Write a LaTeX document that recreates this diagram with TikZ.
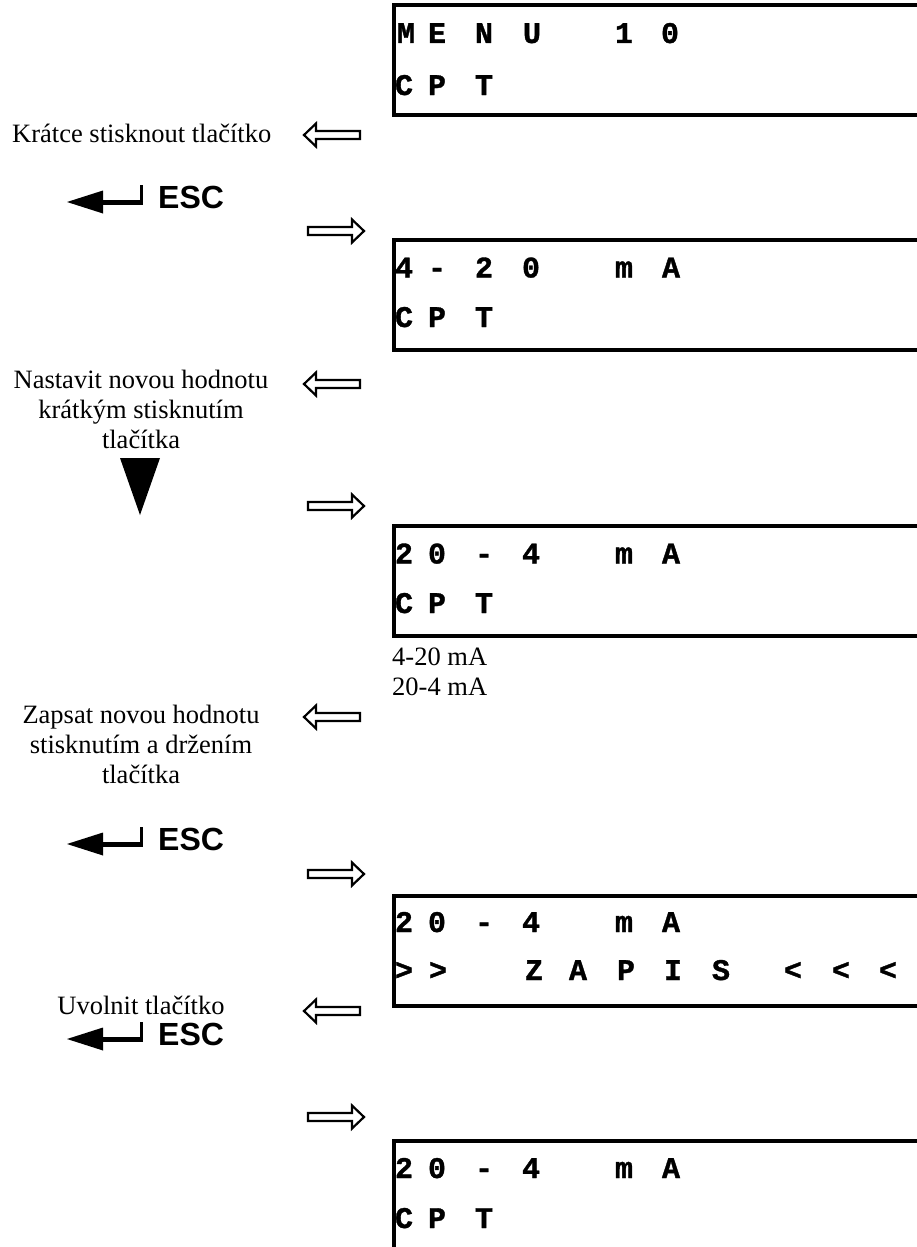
\documentclass[tikz,border=0pt]{standalone}
\usepackage{fontspec}
\setmainfont{Liberation Serif}
\newfontfamily\lcdfont{Liberation Mono}[BoldFeatures={FakeBold=1.2}]
\newfontfamily\keyfont{Liberation Sans}

% one text row of an LCD: name prefix, baseline y, list of x/char
\newcommand\lcdrow[3]{%
  \foreach \cx/\ch [count=\k] in #3 {\node[lcdchar] (#1-\k) at (\cx,#2) {\ch};}%
}
% LCD frame open to the right: top y
\newcommand\lcdframe[1]{%
  \draw[lcdline] (935,#1) -- (393.5,#1) -- (393.5,#1+110) -- (935,#1+110);%
}

\def\rowMenu{406/M,437/E,484/N,532/U,624/1,670/0}
\def\rowCPT{404/C,437/P,484/T}
\def\rowUp{404/4,437/-,484/2,531/0,624/m,671/A}
\def\rowDown{404/2,437/0,484/-,531/4,624/m,671/A}
\def\rowSave{404/>,438/>,534/Z,578/A,626/P,673/I,721/S,793/<,841/<,888/<}

\begin{document}
\begin{tikzpicture}[x=1pt,y=-1pt,
  helptext/.style={font=\fontsize{26.5}{30}\selectfont, inner sep=0pt, anchor=base},
  lcdchar/.style={font=\lcdfont\bfseries\fontsize{30}{30}\selectfont, inner sep=0pt, anchor=base},
  lcdline/.style={line width=4pt},
  hollow/.style={line width=2.2pt, line join=miter},
  keytext/.style={font=\keyfont\bfseries\fontsize{32}{32}\selectfont, inner sep=0pt, anchor=base west},
  backarrow/.pic={\draw[hollow] (0,0) -- (12,-11.5) -- (12,-4) -- (56,-4) -- (56,4) -- (12,4) -- (12,11.5) -- cycle;},
  fwdarrow/.pic={\draw[hollow] (0,0) -- (-12,-11.5) -- (-12,-4) -- (-56,-4) -- (-56,4) -- (-12,4) -- (-12,11.5) -- cycle;},
  escarrow/.pic={\fill (0,0) -- (36,-11.5) -- (36,11.5) -- cycle;
                 \fill (34,-2.5) -- (76,-2.5) -- (76,2.5) -- (34,2.5) -- cycle;
                 \fill (72.5,-17) -- (76,-17) -- (76,2.5) -- (72.5,2.5) -- cycle;}
]
\useasboundingbox (0,0) rectangle (917,1247);
\clip (0,0) rectangle (917,1247);

% ---- display 1: MENU 10
\lcdframe{5}
\lcdrow{d1a}{43}{\rowMenu}
\lcdrow{d1b}{95}{\rowCPT}

\node[helptext, anchor=base west] (t1) at (12,142) {Krátce stisknout tlačítko};
\pic at (304,135) {backarrow};
\pic at (67,202) {escarrow};
\node[keytext] (esc1) at (158,208) {ESC};
\pic at (364,231) {fwdarrow};

% ---- display 2: 4-20 mA
\lcdframe{240}
\lcdrow{d2a}{277.5}{\rowUp}
\lcdrow{d2b}{327}{\rowCPT}

\node[helptext] (t2a) at (141,388) {Nastavit novou hodnotu};
\node[helptext] (t2b) at (141,418) {krátkým stisknutím};
\node[helptext] (t2c) at (141,448) {tlačítka};
\pic at (304,384) {backarrow};
\fill (120,458) -- (160,458) -- (140,515) -- cycle;
\pic at (364,506) {fwdarrow};

% ---- display 3: 20-4 mA
\lcdframe{526}
\lcdrow{d3a}{563.5}{\rowDown}
\lcdrow{d3b}{613}{\rowCPT}

\node[helptext, anchor=base west] (o1) at (392,665) {4-20 mA};
\node[helptext, anchor=base west] (o2) at (392,695) {20-4 mA};

\node[helptext] (t3a) at (141,723) {Zapsat novou hodnotu};
\node[helptext] (t3b) at (141,753) {stisknutím a držením};
\node[helptext] (t3c) at (141,783) {tlačítka};
\pic at (304,717) {backarrow};
\pic at (67,844) {escarrow};
\node[keytext] (esc2) at (158,850) {ESC};
\pic at (364,874) {fwdarrow};

% ---- display 4: write confirmation
\lcdframe{895.5}
\lcdrow{d4a}{932}{\rowDown}
\lcdrow{d4b}{980}{\rowSave}

\node[helptext] (t4) at (141,1014) {Uvolnit tlačítko};
\pic at (304,1011) {backarrow};
\pic at (67,1039) {escarrow};
\node[keytext] (esc3) at (158,1045) {ESC};
\pic at (364,1117) {fwdarrow};

% ---- display 5: back to normal
\lcdframe{1140.5}
\lcdrow{d5a}{1178}{\rowDown}
\lcdrow{d5b}{1228}{\rowCPT}
\end{tikzpicture}
\end{document}
